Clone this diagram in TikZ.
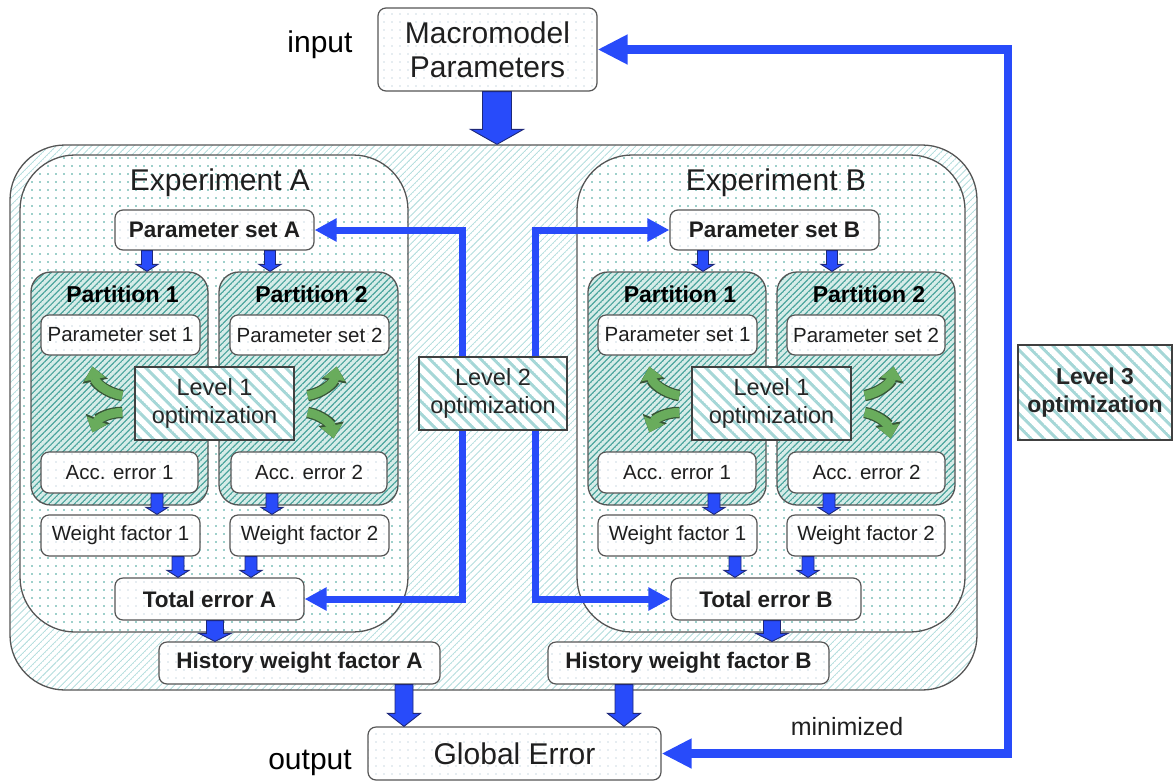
\documentclass[tikz,border=0pt]{standalone}
\usepackage{fontspec}
\setmainfont{Liberation Sans}
\usetikzlibrary{calc,patterns.meta,arrows.meta}

% parallel stripes with adjustable spacing, angle and stroke width
\tikzdeclarepattern{
  name=stripes,
  parameters={
    \pgfkeysvalueof{/pgf/pattern keys/size},
    \pgfkeysvalueof{/pgf/pattern keys/angle},
    \pgfkeysvalueof{/pgf/pattern keys/line width},
  },
  bounding box={
    (0,-0.5*\pgfkeysvalueof{/pgf/pattern keys/line width}) and
    (\pgfkeysvalueof{/pgf/pattern keys/size},
     0.5*\pgfkeysvalueof{/pgf/pattern keys/line width})},
  tile size={(\pgfkeysvalueof{/pgf/pattern keys/size},
              \pgfkeysvalueof{/pgf/pattern keys/size})},
  tile transformation={rotate=\pgfkeysvalueof{/pgf/pattern keys/angle}},
  defaults={
    size/.initial=5pt,
    angle/.initial=45,
    line width/.initial=.4pt,
  },
  code={
    \draw[line width=\pgfkeysvalueof{/pgf/pattern keys/line width}]
      (0,0) -- (\pgfkeysvalueof{/pgf/pattern keys/size},0);
  },
}

% regular grid of small dots
\tikzdeclarepattern{
  name=dotgrid,
  type=uncolored,
  bounding box={(-1pt,-1pt) and (1pt,1pt)},
  tile size={(8pt,8pt)},
  code={\fill (0pt,0pt) circle (0.85pt);},
}

\definecolor{edge}{RGB}{85,85,85}
\definecolor{flow}{RGB}{40,75,250}
\definecolor{flowdark}{RGB}{30,40,120}
\definecolor{dotteal}{RGB}{60,160,150}
\definecolor{hatchlight}{RGB}{180,222,222}
\definecolor{partbg}{RGB}{214,236,232}
\definecolor{partline}{RGB}{75,165,158}
\definecolor{stripe}{RGB}{165,215,215}
\definecolor{faintdot}{RGB}{205,220,228}
\definecolor{leaf}{RGB}{105,172,92}
\definecolor{leafdark}{RGB}{55,85,55}

% downward block arrow: start, end, half shaft, half head, head length
\newcommand\blockdown[5]{%
  \path[blockarrow] let \p1=(#1), \p2=(#2) in
    (\x1-#3,\y1) -- (\x1+#3,\y1) -- (\x1+#3,\y2+#5) -- (\x1+#4,\y2+#5)
    -- (\x1,\y2) -- (\x1-#4,\y2+#5) -- (\x1-#3,\y2+#5) -- cycle;}

\begin{document}
\begin{tikzpicture}[x=1pt,y=-1pt,
  container/.style={draw=edge, line width=1.3pt, rounded corners=55pt, inner sep=0pt,
    preaction={fill=white}, pattern={stripes[size=5pt,angle=45,line width=0.9pt]},
    pattern color=hatchlight},
  expbox/.style={draw=edge, line width=1.3pt, rounded corners=55pt, inner sep=0pt,
    preaction={fill=white}, pattern={dotgrid}, pattern color=dotteal},
  partbox/.style={draw=edge, line width=1.3pt, rounded corners=20pt, inner sep=0pt,
    preaction={fill=partbg}, pattern={stripes[size=4.5pt,angle=45,line width=1.2pt]},
    pattern color=partline},
  box/.style={draw=edge, line width=1.2pt, rounded corners=8pt, inner sep=0pt,
    preaction={fill=white}, pattern={dotgrid}, pattern color=faintdot, text=black!88},
  levelbox/.style={draw=black!75, line width=1.3pt, inner sep=0pt, align=center,
    preaction={fill=white}, pattern={stripes[size=9pt,angle=-45,line width=3pt]},
    pattern color=stripe, text=black!85},
  bigfont/.style={font=\fontsize{30}{34}\selectfont},
  boldfont/.style={font=\bfseries\fontsize{22.5}{26}\selectfont},
  smallfont/.style={font=\fontsize{20.5}{24}\selectfont},
  levelfont/.style={font=\fontsize{23.5}{28}\selectfont},
  blockarrow/.style={fill=flow, draw=flowdark, line width=0.9pt, line join=miter},
  l2flow/.style={draw=flow, line width=7pt, -{Triangle[width=22pt,length=22pt]}},
  l3flow/.style={draw=flow, line width=8.5pt, -{Triangle[width=28pt,length=30pt]}},
  leafarrow/.style={draw=leaf, line width=9pt, -{Triangle[width=21pt,length=13pt]},
    preaction={draw=leafdark, line width=11.5pt, -{Triangle[width=25pt,length=15pt]}}}
]
\useasboundingbox (0,0) rectangle (1174,782);

% ---- input block and outer container ----
\node[box, bigfont, align=center, minimum width=219, minimum height=83] (macro) at (487.5,49.5)
  {Macromodel\\Parameters};
\node[font=\fontsize{30}{34}\selectfont] (inlabel) at (320,45) {input};

\node[container, minimum width=967, minimum height=545] (outer) at (493.5,417.5) {};

% ---- experiment panels ----
\node[expbox, minimum width=388, minimum height=477] (expA) at (214,393.5) {};
\node[expbox, minimum width=388, minimum height=477] (expB) at (771,393.5) {};
\node[bigfont, text=black!88] (expAt) at (220,183) {Experiment A};
\node[bigfont, text=black!88] (expBt) at (776,183) {Experiment B};

\node[box, boldfont, minimum width=199, minimum height=40] (psA) at (214.5,230) {Parameter set A};
\node[box, boldfont, minimum width=209, minimum height=40] (psB) at (774.5,230) {Parameter set B};

% partitions
\node[partbox, minimum width=177, minimum height=233] (p1A) at (119.5,388.5) {};
\node[partbox, minimum width=179, minimum height=233] (p2A) at (308.5,388.5) {};
\node[partbox, minimum width=178, minimum height=233] (p1B) at (677,388.5) {};
\node[partbox, minimum width=178, minimum height=233] (p2B) at (866,388.5) {};
\foreach \p/\t in {p1A/Partition 1,p2A/Partition 2,p1B/Partition 1,p2B/Partition 2}
  \node[font=\bfseries\fontsize{23}{26}\selectfont] (\p t) at ($(\p.north)+(3,23)$) {\t};

\node[box, smallfont, minimum width=159, minimum height=40] (ps1A) at (120.5,335) {Parameter set 1};
\node[box, smallfont, minimum width=159, minimum height=40] (ps2A) at (309.5,335) {Parameter set 2};
\node[box, smallfont, minimum width=159, minimum height=40] (ps1B) at (677.5,335) {Parameter set 1};
\node[box, smallfont, minimum width=158, minimum height=40] (ps2B) at (866,335) {Parameter set 2};

\node[levelbox, levelfont, minimum width=159, minimum height=73] (l1A) at (214.5,403.5) {Level 1\\optimization};
\node[levelbox, levelfont, minimum width=159, minimum height=73] (l1B) at (771.5,403.5) {Level 1\\optimization};

\node[box, smallfont, minimum width=157, minimum height=41] (acc1A) at (119.5,472.5) {Acc. error 1};
\node[box, smallfont, minimum width=156, minimum height=41] (acc2A) at (309,472.5) {Acc. error 2};
\node[box, smallfont, minimum width=158, minimum height=41] (acc1B) at (677,472.5) {Acc. error 1};
\node[box, smallfont, minimum width=157, minimum height=41] (acc2B) at (866.5,472.5) {Acc. error 2};

\node[box, smallfont, minimum width=159, minimum height=41] (wf1A) at (120.5,535.5) {Weight factor 1};
\node[box, smallfont, minimum width=159, minimum height=41] (wf2A) at (309.5,535.5) {Weight factor 2};
\node[box, smallfont, minimum width=159, minimum height=41] (wf1B) at (677.5,535.5) {Weight factor 1};
\node[box, smallfont, minimum width=158, minimum height=41] (wf2B) at (866,535.5) {Weight factor 2};

\node[box, boldfont, minimum width=189, minimum height=42] (teA) at (209.5,599) {Total error A};
\node[box, boldfont, minimum width=190, minimum height=42] (teB) at (766,599) {Total error B};

\node[box, boldfont, minimum width=281, minimum height=42] (hwA) at (299.5,663) {History weight factor A};
\node[box, boldfont, minimum width=281, minimum height=42] (hwB) at (688.5,663) {History weight factor B};

\node[box, bigfont, minimum width=293, minimum height=53] (ge) at (514.5,753.5) {Global Error};
\node[font=\fontsize{30}{34}\selectfont] (outlabel) at (310,763) {output};

% ---- level 1 feedback arrows ----
\foreach \b in {A,B} {
  \draw[leafarrow] ($(l1\b.west)+(-12,-8)$) to[bend left=35] ($(l1\b.west)+(-42,-37)$);
  \draw[leafarrow] ($(l1\b.west)+(-12,9)$) to[bend right=35] ($(l1\b.west)+(-42,29)$);
  \draw[leafarrow] ($(l1\b.east)+(13,-8)$) to[bend right=35] ($(l1\b.east)+(42,-37)$);
  \draw[leafarrow] ($(l1\b.east)+(13,9)$) to[bend left=35] ($(l1\b.east)+(39,35)$);
}

% ---- level 2 loop ----
\coordinate (l2L) at (462,393);
\coordinate (l2R) at (535,393);
\draw[l2flow] (l2L) |- (psA.east);
\draw[l2flow] (l2L) |- (teA.east);
\draw[l2flow] (l2R) |- (psB.west);
\draw[l2flow] (l2R) |- (teB.west);
\node[levelbox, levelfont, minimum width=148, minimum height=73] (l2) at (493,393.5) {Level 2\\optimization};

% ---- level 3 loop ----
\coordinate (l3c) at (1008,400);
\draw[l3flow] (l3c) |- (macro.east);
\draw[l3flow] (l3c) |- (ge.east);
\node[levelbox, font=\bfseries\fontsize{23}{28}\selectfont, minimum width=154, minimum height=95] (l3) at (1095,392.5) {Level 3\\optimization};
\node[font=\fontsize{25}{28}\selectfont, text=black!88] (minlabel) at (847,727) {minimized};

% ---- data flow block arrows ----
\blockdown{$(macro.south)+(9.5,0)$}{outer.north}{14.5pt}{26.5pt}{15pt}

\blockdown{$(psA.south)+(-67.5,0)$}{p1A.north}{5.5pt}{11pt}{7pt}
\blockdown{$(psA.south)+(55.5,0)$}{p2A.north}{5.5pt}{11pt}{7pt}
\blockdown{$(psB.south)+(-71.5,0)$}{p1B.north}{5.5pt}{11pt}{7pt}
\blockdown{$(psB.south)+(57.5,0)$}{p2B.north}{5.5pt}{11pt}{7pt}

\blockdown{$(acc1A.south)+(37.5,0)$}{wf1A.north}{6pt}{11pt}{7pt}
\blockdown{$(acc2A.south)+(-37,0)$}{wf2A.north}{6pt}{11pt}{7pt}
\blockdown{$(acc1B.south)+(37,0)$}{wf1B.north}{6pt}{11pt}{7pt}
\blockdown{$(acc2B.south)+(-37.5,0)$}{wf2B.north}{6pt}{11pt}{7pt}

\blockdown{$(wf1A.south)+(57.5,0)$}{teA.north}{6pt}{11pt}{7pt}
\blockdown{$(wf2A.south)+(-58.5,0)$}{teA.north}{6pt}{11pt}{7pt}
\blockdown{$(wf1B.south)+(57.5,0)$}{teB.north}{6pt}{11pt}{7pt}
\blockdown{$(wf2B.south)+(-58,0)$}{teB.north}{6pt}{11pt}{7pt}

\blockdown{$(teA.south)+(5.5,0)$}{hwA.north}{8.5pt}{16pt}{8pt}
\blockdown{$(teB.south)+(6,0)$}{hwB.north}{8.5pt}{16pt}{8pt}

\blockdown{$(hwA.south)+(104.5,0)$}{ge.north}{9pt}{16.5pt}{13pt}
\blockdown{$(hwB.south)+(-64.5,0)$}{ge.north}{9pt}{16.5pt}{13pt}
\end{tikzpicture}
\end{document}
